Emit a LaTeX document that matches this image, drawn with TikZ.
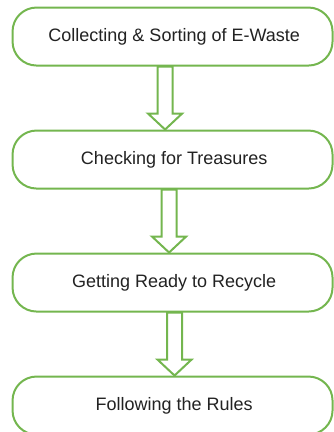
\documentclass[tikz,border=0pt]{standalone}
\usepackage{fontspec}
\setmainfont{Liberation Sans}
\usepackage{xcolor}
\definecolor{stepGreen}{HTML}{74B64F}
\definecolor{stepText}{HTML}{222222}
\usepackage{tikz}
\usetikzlibrary{positioning,calc}
\tikzset{
    stage/.style={
        draw=stepGreen,
        fill=white,
        rectangle,
        rounded corners=18pt,
        align=center,
        minimum height=43.5pt,
        minimum width=240pt,
        line width=1.5pt,
        text=stepText,
        font=\fontsize{13.5}{16}\selectfont
    },
    blockarrow/.style={
        draw=stepGreen,
        fill=white,
        line width=1.5pt,
        line join=miter
    }
}
% hollow down arrow from one stage to the next: from, to, x shift
\newcommand{\stagearrow}[3]{%
    \draw[blockarrow]
        ($(#1.south)+(#3-5.6pt,0)$) -- ($(#1.south)+(#3+5.6pt,0)$)
        -- ($(#2.north)+(#3+5.6pt,12pt)$) -- ($(#2.north)+(#3+12.8pt,12pt)$)
        -- ($(#2.north)+(#3,0)$)
        -- ($(#2.north)+(#3-12.8pt,12pt)$) -- ($(#2.north)+(#3-5.6pt,12pt)$)
        -- cycle;
}

\begin{document}
\begin{tikzpicture}[node distance=47.25pt]
    \useasboundingbox (0,0) rectangle (250.5pt,-324pt);

    % The four stages, top to bottom
    \node[stage] (collect) at (129.4pt,-27.4pt) {\hspace*{2.5pt}Collecting \& Sorting of E-Waste};
    \node[stage, below=of collect] (check) {\hspace*{2.5pt}Checking for Treasures};
    \node[stage, below=of check] (ready) {\hspace*{2.5pt}Getting Ready to Recycle};
    \node[stage, below=of ready] (rules) {\hspace*{2.5pt}Following the Rules};

    % Arrows between stages
    \stagearrow{collect}{check}{-5.6pt}
    \stagearrow{check}{ready}{-2.6pt}
    \stagearrow{ready}{rules}{1.5pt}
\end{tikzpicture}
\end{document}
